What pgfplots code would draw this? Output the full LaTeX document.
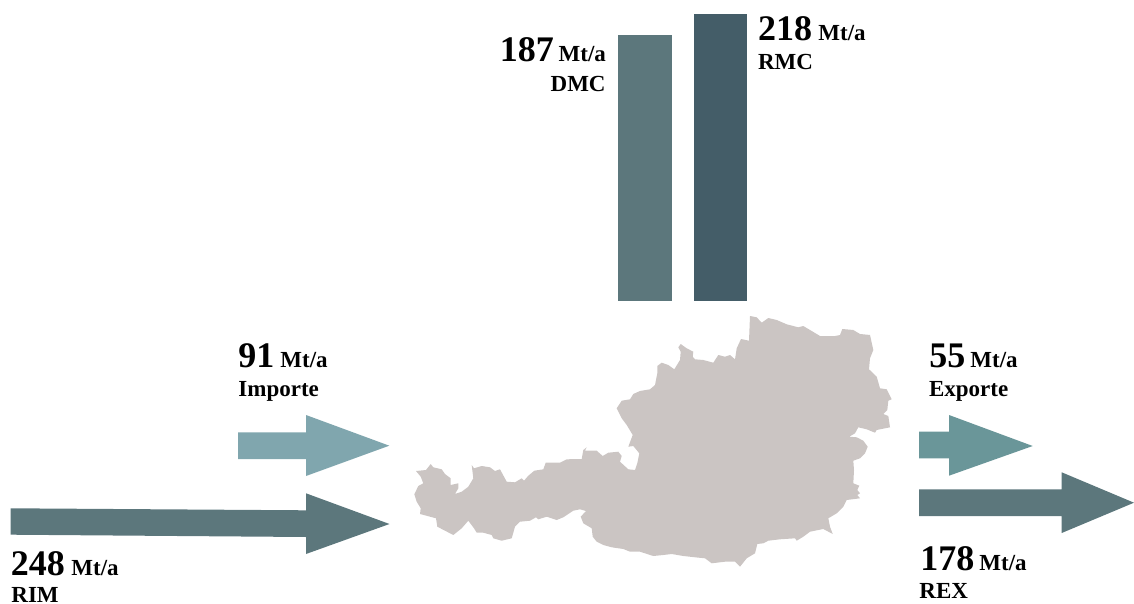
\documentclass[border=0pt]{standalone}
\usepackage{pgfplots}
\pgfplotsset{compat=1.18}
\usepackage{fontspec}
\setmainfont{Liberation Serif}
\definecolor{cmap}{HTML}{CBC5C3}
\definecolor{cimp}{HTML}{80A6AE}
\definecolor{cexp}{HTML}{6A9699}
\definecolor{cdark}{HTML}{5C777C}
\definecolor{crmc}{HTML}{445D68}
\newcommand{\numlab}[3]{\node[anchor=base west,inner sep=0pt,font=\fontsize{18pt}{19pt}\selectfont\bfseries] at (axis cs:#1,#2) {#3};}
\newcommand{\unitlab}[2]{\node[anchor=base west,inner sep=0pt,font=\fontsize{11.5pt}{12pt}\selectfont\bfseries] at (axis cs:#1,#2) {Mt/a};}
\newcommand{\namelab}[3]{\node[anchor=base west,inner sep=0pt,font=\fontsize{11.5pt}{12pt}\selectfont\bfseries] at (axis cs:#1,#2) {#3};}
\begin{document}
\begin{tikzpicture}
\useasboundingbox (0,0) rectangle (567pt,302pt);
\clip (0,0) rectangle (567pt,302pt);
\begin{axis}[
  at={(0,0)},anchor=south west,
  scale only axis,width=567pt,height=302pt,
  xmin=0,xmax=1134,ymin=0,ymax=604,y dir=reverse,
  hide axis,clip=false,
  every axis plot/.append style={draw=none,mark=none,forget plot}
]
% map
\addplot[fill=cmap] coordinates {
(414.3,494.3)(418.3,486)(423.3,483.3)(420.7,476.7)(416,471)(426,470)(430.7,464)(433.3,467.3)(441.7,469.3)(445,474)(450.7,478.3)(450.7,485)(458.3,483.3)(458.3,488.3)(455,494)(461.7,491.7)(468.3,486.7)(473.3,478.3)(471.7,465)(474,468.3)(481.7,466)(490,467.3)(495,471)(500,469.3)(506.7,481.7)(515,482.3)(521.7,478.3)(524,480.7)(528.3,475.7)(534.3,470.7)(543.3,469.3)(545.7,462.7)(560,462.7)(566.7,459.3)(581.7,459)(583.3,450)(586.7,447.3)(585,450.7)(596.7,450.7)(602.7,456)(608.3,452.7)(618.3,451.7)(621.7,456)(620,461.7)(628.3,469.3)(635,470)(637.3,463.3)(639.3,453.3)(633.3,446)(628.3,446.7)(632.7,435)(626.7,425)(621.7,418.3)(616.7,408.3)(621.7,400.7)(630,399.3)(633.3,394)(640,391)(650,389.3)
(655,385)(657.3,373.3)(657.3,366)(661.7,362.7)(668.3,365)(674.3,369.3)(680,360)(680.7,351.7)(678.3,347.3)(680.7,344)(686.7,348.3)(693.3,351.7)(692.7,356.7)(695,359.3)(703.3,360)(713.3,362.7)(718.3,355)(725,356.7)(730,355)(735,359.3)(736.7,348.3)(741,339)(749,340.7)(750,316)(756.7,317.3)(761.7,322.7)(768.3,318)(776.7,320)(786.7,324.3)(798.3,327.3)(803.3,326)(810,330)(820,336)(835,336)(840,335)(842.3,329)(853.3,330)(860,334)(870,335)(873.3,350)(870,358.3)(869,369.3)(876.7,376.7)(880,388.3)(886.7,389.3)(891.7,399.3)(888.3,400.7)(887.3,410)(883.3,414)(888.3,416)(890,427.3)(876.7,430)(875,432.7)(866.7,429.3)(858.3,427.3)(855,433.3)(849.3,436.7)(856.7,437.3)(863.3,440.7)(867.7,446.7)(865,453.3)(860,458.3)(853.3,460.7)(854,470)(853.3,483.3)(859.3,485.7)(857.3,490)(860,493.3)(857.3,495)(860,498.3)(846.7,500)(843.3,506.7)(836.7,513.3)(828.3,518.3)(830,526.7)(832.7,534)(823.3,529)(810,531.7)(803.3,536.7)(796.7,540.7)(795,538.3)(780,539.3)(768.3,540.7)(763.3,543.3)(757.3,544)(755,553.3)(746.7,558.3)(740,566.7)(735,561.7)(725,561.7)(711.7,563.3)(705,558.3)(695,557.3)(683.3,556)(671.7,554)(663.3,555)(653.3,556)(640,551.7)
(630,551.7)(623.3,549)(611.7,547.3)(603.3,545)(596.7,541.7)(592.7,536.7)(591.7,528.3)(583.3,523.3)(580.7,516.7)(586,511)(580,509.3)(573.3,510.7)(563.3,517.3)(556.7,520)(546.7,516.7)(538.3,519.3)(536,517.3)(530,520.7)(520,521.7)(515,526.7)(511.7,538.3)(501.7,540.7)(493.3,538.3)(491.7,535)(483.3,532.7)(476.7,532.7)(474,528.3)(468.3,520.7)(461.7,528.3)(453.3,535)(445,530.7)(437.3,526.7)(436,518.3)(420,514)(420.7,508.3)(416.7,501.7)
} -- cycle;
% bars
\addplot[fill=cdark] coordinates {(618.3,301)(618.3,35.3)(671.7,35.3)(671.7,301)} -- cycle;
\addplot[fill=crmc] coordinates {(693.7,301)(693.7,14.3)(747,14.3)(747,301)} -- cycle;
% arrows
\addplot[fill=cimp] coordinates {(238,432.3)(306,432.3)(306,415)(389.3,445.7)(306,476)(306,459)(238,459)} -- cycle;
\addplot[fill=cdark] coordinates {(10.7,508.3)(306,510.3)(306,493.3)(389.5,524)(306,554)(306,537)(10.7,534.7)} -- cycle;
\addplot[fill=cexp] coordinates {(919,431.7)(949,431.7)(949,415)(1032.7,446)(949,475.7)(949,458.3)(919,458.3)} -- cycle;
\addplot[fill=cdark] coordinates {(919,489.3)(1061.7,489.3)(1061.7,472.3)(1134,502.7)(1061.7,533)(1061.7,516)(919,516)} -- cycle;
% labels
\numlab{499.5}{61.7}{187}\unitlab{558.3}{61.7}
\node[anchor=base east,inner sep=0pt,font=\fontsize{11.5pt}{12pt}\selectfont\bfseries] at (axis cs:606,91.7) {DMC};
\numlab{757.7}{40.7}{218}\unitlab{818}{40.7}\namelab{757.7}{70}{RMC}
\numlab{238}{367.3}{91}\unitlab{280}{367.3}\namelab{238}{396.7}{Importe}
\numlab{10.5}{575.7}{248}\unitlab{71}{575.7}\namelab{11}{602.5}{RIM}
\numlab{929}{367.3}{55}\unitlab{970}{367.3}\namelab{928.7}{396.7}{Exporte}
\numlab{920}{570.7}{178}\unitlab{979}{570.7}\namelab{919}{598.3}{REX}
\end{axis}
\end{tikzpicture}
\end{document}
